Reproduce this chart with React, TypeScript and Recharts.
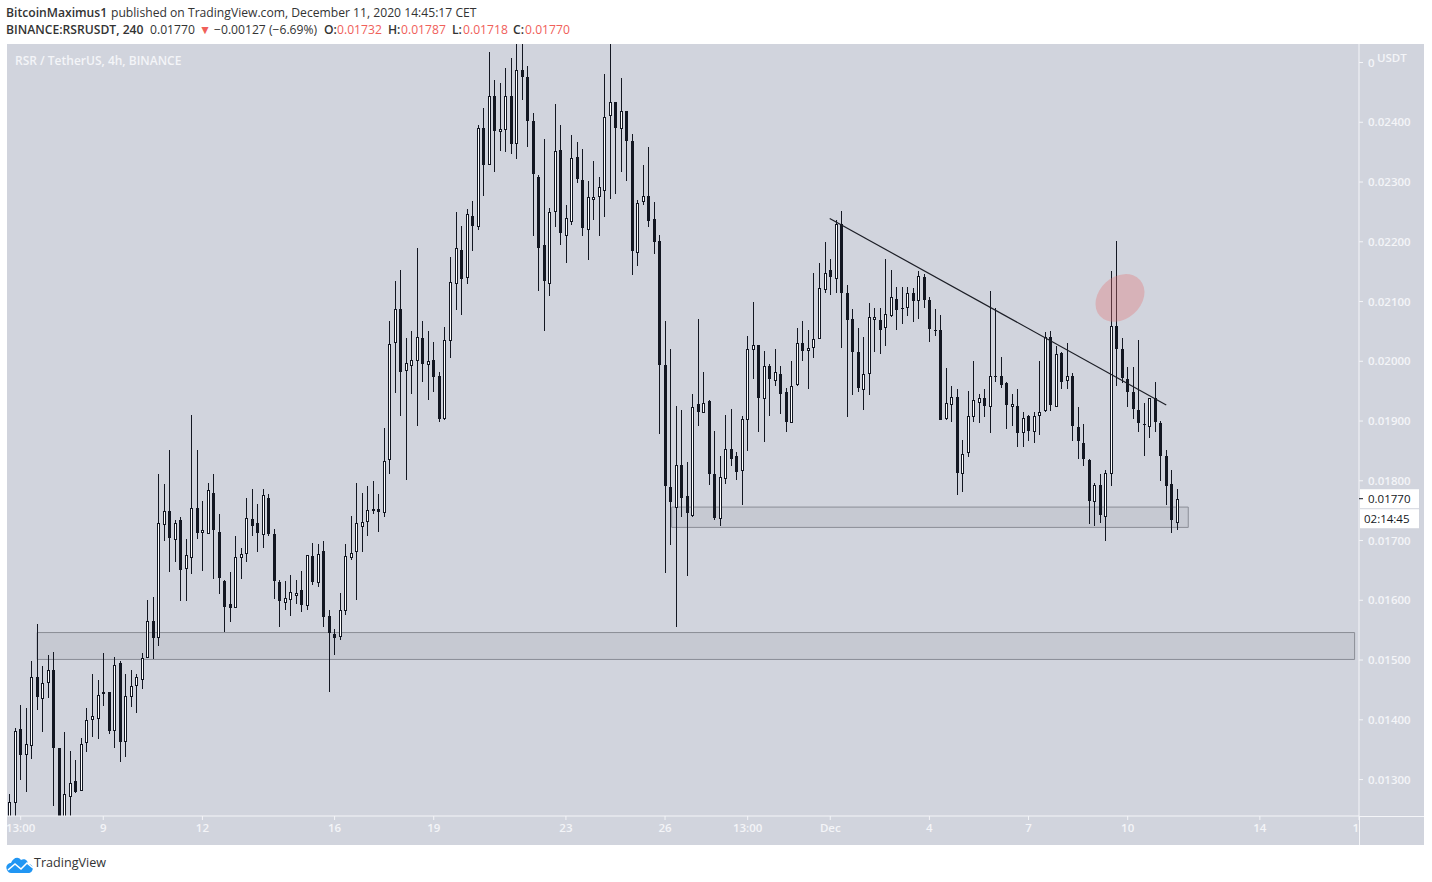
import React from 'react';
import { ComposedChart, Bar, XAxis, YAxis, ReferenceArea, ReferenceLine, ReferenceDot } from 'recharts';

// prices are in units of 0.00001 USDT, one entry per 4h candle
const opens = [
  1232,1263,1385,1342,1357,1471,1437,1464,1484,1352,1228,1274,1297,1283,1362,1402,1404,1446,1446,1382,
  1495,1363,1440,1457,1469,1506,1566,1540,1729,1749,1703,1734,1653,1673,1755,1713,1713,1780,1715,1633,
  1593,1588,1673,1678,1736,1729,1710,1771,1711,1630,1598,1603,1608,1617,1593,1674,1630,1682,1574,1543,
  1540,1583,1673,1682,1725,1732,1752,1752,1747,1836,2031,2087,1985,1994,2002,2039,1995,2002,1975,1904,
  2035,2131,2186,2140,2243,2226,2390,2331,2444,2385,2388,2444,2364,2487,2475,2402,2308,2194,2132,2251,
  2353,2211,2234,2342,2303,2221,2271,2276,2286,2412,2434,2390,2419,2368,2183,2268,2276,2238,2201,1994,
  1790,1756,1826,1774,1743,1928,1916,1933,1812,1739,1805,1853,1841,1817,1903,2022,2028,1938,1992,1968,
  1978,1948,1897,1961,2030,2018,2025,2038,2120,2152,2139,2230,2114,2070,2015,1953,1980,2070,2069,2057,
  2077,2105,2089,2092,2115,2102,2141,2102,2052,2052,1905,1928,1940,1812,1848,1908,1931,1938,1925,1976,
  1975,1963,1924,1925,1881,1908,1883,1910,1918,2040,1925,2014,1968,1975,1890,1863,1834,1766,1793,1741,
  1813,2059,2020,1970,1948,1918,1895,1891,1938,1896,1841,1794,1732,
];
const highs = [
  1275,1387,1424,1419,1499,1561,1490,1509,1514,1352,1379,1347,1332,1369,1419,1477,1466,1511,1447,1505,
  1498,1476,1484,1476,1511,1601,1605,1811,1795,1851,1734,1740,1703,1910,1852,1767,1797,1811,1745,1634,
  1648,1708,1688,1771,1786,1761,1786,1778,1720,1634,1633,1643,1634,1649,1676,1696,1695,1699,1584,1552,
  1612,1694,1741,1796,1779,1791,1799,1778,1888,2067,2135,2152,2039,2051,2190,2067,2051,2032,1982,2057,
  2174,2250,2227,2255,2268,2395,2424,2517,2470,2465,2491,2507,2545,2545,2494,2415,2311,2372,2256,2430,
  2396,2261,2379,2367,2355,2301,2335,2308,2481,2550,2434,2474,2419,2380,2270,2328,2358,2266,2211,2068,
  2020,1925,1918,1831,1945,2070,1982,1935,1883,1841,1910,1920,1848,1908,2042,2099,2028,2018,1995,2020,
  1992,1955,2000,2055,2067,2052,2147,2164,2199,2172,2237,2252,2128,2087,2055,2040,2097,2090,2089,2171,
  2152,2125,2125,2125,2122,2151,2146,2107,2087,2077,1988,1958,1953,1869,1950,2000,1945,1953,2117,2089,
  2007,1965,1945,1953,1915,1910,1915,2000,2049,2050,2025,2015,2030,1980,1923,1895,1836,1796,1811,1818,
  2151,2201,2039,1990,1990,2035,1931,1938,1965,1900,1852,1818,1787,
];
const lows = [
  1220,1235,1299,1279,1335,1417,1380,1437,1256,1215,1220,1235,1278,1281,1346,1371,1368,1423,1376,1352,
  1330,1338,1421,1411,1451,1504,1502,1523,1700,1647,1664,1599,1599,1644,1703,1649,1713,1636,1611,1547,
  1564,1588,1636,1664,1708,1680,1688,1708,1602,1556,1584,1573,1594,1581,1583,1626,1623,1556,1446,1509,
  1534,1575,1667,1600,1680,1708,1744,1714,1739,1812,1947,1909,1801,1945,1891,1965,1936,1949,1899,1902,
  2006,2086,2078,2130,2185,2220,2277,2331,2316,2352,2350,2347,2339,2438,2359,2209,2118,2051,2110,2224,
  2195,2164,2228,2298,2209,2170,2237,2210,2241,2271,2280,2316,2301,2145,2159,2261,2224,2179,1878,1646,
  1693,1556,1740,1640,1740,1892,1916,1793,1735,1725,1795,1825,1801,1760,1850,1971,1882,1865,1909,1958,
  1912,1882,1896,1958,2000,1954,2006,2038,2115,2111,2114,2023,1906,1944,1948,1919,1944,2015,2013,2026,
  2074,2053,2062,2076,2066,2070,2090,2033,2043,1902,1901,1899,1777,1782,1840,1898,1897,1907,1880,1966,
  1956,1887,1891,1856,1856,1867,1863,1876,1915,1916,1925,1954,1954,1867,1837,1825,1728,1725,1730,1700,
  1792,1958,1964,1923,1904,1882,1842,1872,1881,1800,1760,1713,1718,
];
const closes = [
  1262,1382,1342,1359,1471,1437,1462,1484,1353,1225,1275,1295,1279,1360,1399,1407,1442,1443,1381,1491,
  1363,1439,1456,1471,1504,1566,1537,1730,1750,1703,1730,1651,1675,1755,1713,1717,1785,1718,1638,1589,
  1587,1672,1678,1737,1725,1712,1776,1710,1633,1598,1604,1614,1612,1592,1676,1630,1677,1571,1546,1537,
  1584,1674,1679,1729,1731,1751,1749,1747,1833,2029,2087,1981,1997,2002,2041,1995,2000,1973,1903,2035,
  2132,2189,2137,2246,2226,2390,2328,2444,2386,2388,2444,2364,2487,2475,2401,2314,2190,2133,2250,2352,
  2214,2239,2340,2306,2222,2275,2275,2291,2409,2434,2390,2419,2368,2184,2265,2276,2234,2200,1993,1792,
  1765,1826,1770,1745,1923,1914,1931,1810,1738,1807,1853,1837,1815,1903,2020,2028,1940,1992,1970,1982,
  1944,1897,1958,2030,2017,2022,2038,2122,2147,2140,2230,2114,2068,2014,1954,1978,2074,2074,2053,2079,
  2107,2087,2088,2115,2102,2142,2102,2053,2051,1902,1930,1940,1812,1844,1908,1935,1938,1925,1975,1975,
  1960,1926,1928,1879,1905,1883,1908,1915,2040,1926,2012,1966,1975,1891,1867,1836,1765,1793,1742,1813,
  2059,2020,1971,1948,1919,1897,1894,1938,1897,1841,1791,1733,1770,
];

const priceTicks = [1300, 1400, 1500, 1600, 1700, 1800, 1900, 2000, 2100, 2200, 2300, 2400, 2500];
const timeTicks = [2, 17, 35, 59, 77, 101, 119, 134, 149, 167, 185, 203, 227, 245];
const timeLabels = ['13:00', '9', '12', '16', '19', '23', '26', '13:00', 'Dec', '4', '7', '10', '14', '1'];

const lastPrice = closes[closes.length - 1];
const upperZone = { x1: 5, x2: 244.2, y1: 1501, y2: 1546 };
const lowerZone = { x1: 120.2, x2: 214, y1: 1722, y2: 1756 };
const trendLine = [{ x: 148.9, y: 2239 }, { x: 210, y: 1927 }];
const markerSpot = { x: 201.6, y: 2106 };

const candles = opens.map((open, i) => ({
  i,
  open,
  close: closes[i],
  range: [lows[i], highs[i]],
}));

const DARK = '#131722';
const PANE = '#d1d4dd';
const AXIS = '#f4f5f8';
const FONT = '"Open Sans", sans-serif';
const RED = '#f0605a';

// header pieces: text, left edge, bold or red
const headerTop = [
  { text: 'BitcoinMaximus1', left: 6, bold: true },
  { text: 'published on TradingView.com, December 11, 2020 14:45:17 CET', left: 111 },
];
const headerBottom = [
  { text: 'BINANCE:RSRUSDT, 240', left: 6, bold: true },
  { text: '0.01770', left: 150 },
  { text: '▼', left: 199, red: true },
  { text: '−0.00127 (−6.69%)', left: 214 },
  { text: 'O:', left: 324, bold: true },
  { text: '0.01732', left: 337, red: true },
  { text: 'H:', left: 388, bold: true },
  { text: '0.01787', left: 401, red: true },
  { text: 'L:', left: 452, bold: true },
  { text: '0.01718', left: 463, red: true },
  { text: 'C:', left: 513, bold: true },
  { text: '0.01770', left: 525, red: true },
];

const CandleShape = (props: any) => {
  const { x, y, width, height, payload } = props;
  const [low, high] = payload.range;
  const perUnit = height / (high - low || 1);
  const top = y + (high - Math.max(payload.open, payload.close)) * perUnit;
  const bottom = y + (high - Math.min(payload.open, payload.close)) * perUnit;
  const cx = Math.round(x + width / 2) + 0.5;
  const up = payload.close >= payload.open;
  return (
    <g shapeRendering="crispEdges">
      <line x1={cx} x2={cx} y1={y} y2={y + height} stroke={DARK} strokeWidth={1} />
      {up ? (
        <rect x={cx - 1} y={Math.round(top) + 0.5} width={2} height={Math.max(Math.round(bottom - top), 1)} fill="#fff" stroke={DARK} strokeWidth={1} />
      ) : (
        <rect x={cx - 1.5} y={Math.round(top)} width={3} height={Math.max(Math.round(bottom - top), 1)} fill={DARK} />
      )}
    </g>
  );
};

const TimeTick = (props: any) => {
  const { x, y, payload } = props;
  const label = timeLabels[timeTicks.indexOf(payload.value)];
  return (
    <text x={x} y={y + 10} textAnchor={label === '1' ? 'end' : 'middle'} fill={AXIS} fontSize={11.5} fontWeight={600} fontFamily={FONT}>
      {label}
    </text>
  );
};

const PriceTag = (props: any) => {
  const { cx, cy } = props;
  return (
    <g fontFamily={FONT} fontSize={11.5} fill={DARK}>
      <rect x={cx + 1} y={cy - 9.5} width={59} height={19} fill="#fff" />
      <line x1={cx} x2={cx + 4} y1={cy} y2={cy} stroke={DARK} />
      <text x={cx + 9} y={cy + 4}>{(lastPrice / 100000).toFixed(5)}</text>
      <rect x={cx + 1} y={cy + 10.5} width={59} height={19} fill="#fff" />
      <text x={cx + 5} y={cy + 24}>02:14:45</text>
    </g>
  );
};

const MarkerEllipse = (props: any) => {
  const { cx, cy } = props;
  return <ellipse cx={cx} cy={cy} rx={27} ry={21} transform={`rotate(-42 ${cx} ${cy})`} fill="#e57373" fillOpacity={0.34} />;
};

const Logo = () => (
  <svg width={28} height={18} viewBox="0 0 28 18" style={{ position: 'absolute', left: 6, top: 855 }}>
    <path d="M1 15 C-1 11 2 8 5 8 C7 3 12 1 15 5 C18 3 22 5 22 9 C26 9 28 13 26 16 C25 17.5 24 18 22 18 L5 18 C3 18 2 17 1 15 Z" fill="#2196f3" />
    <polyline points="2,15 9,9 15,14 21,8 27,13" fill="none" stroke="#fff" strokeWidth={1.6} />
  </svg>
);

const HeaderRow = ({ pieces, top }: { pieces: any[]; top: number }) => (
  <>
    {pieces.map((p) => (
      <span
        key={p.left}
        style={{
          position: 'absolute',
          left: p.left,
          top,
          fontSize: 12.15,
          lineHeight: '16px',
          whiteSpace: 'nowrap',
          fontWeight: p.bold ? 600 : 400,
          color: p.red ? RED : '#333',
        }}
      >
        {p.text}
      </span>
    ))}
  </>
);

export default function App() {
  return (
    <div style={{ position: 'absolute', left: 0, top: 0, width: 1432, height: 882, background: '#fff', overflow: 'hidden', fontFamily: FONT, color: '#333' }}>
      <HeaderRow pieces={headerTop} top={5} />
      <HeaderRow pieces={headerBottom} top={22} />

      <div style={{ position: 'absolute', left: 7, top: 44, width: 1417, height: 801, background: PANE, overflow: 'hidden' }}>
        <ComposedChart width={1417} height={801} data={candles} margin={{ top: 0, right: 0, bottom: 0, left: 0 }}>
          <XAxis
            dataKey="i"
            type="number"
            domain={[-0.48, 245]}
            allowDataOverflow
            ticks={timeTicks}
            interval={0}
            height={29}
            stroke={AXIS}
            tickSize={4}
            tick={<TimeTick />}
          />
          <YAxis
            orientation="right"
            width={65}
            domain={[1239, 2531]}
            allowDataOverflow
            ticks={priceTicks}
            interval={0}
            stroke={AXIS}
            tickSize={4}
            tickMargin={5}
            tick={{ fill: AXIS, fontSize: 11.5, fontWeight: 600, fontFamily: FONT }}
            tickFormatter={(v: number) => (v === 2500 ? '0' : (v / 100000).toFixed(5))}
          />
          <ReferenceArea {...upperZone} fill="#787b86" fillOpacity={0.12} stroke="#8a8d96" ifOverflow="hidden" />
          <ReferenceArea {...lowerZone} fill="#787b86" fillOpacity={0.12} stroke="#8a8d96" ifOverflow="hidden" />
          <ReferenceDot x={markerSpot.x} y={markerSpot.y} shape={<MarkerEllipse />} ifOverflow="hidden" />
          <Bar dataKey="range" barSize={3} shape={<CandleShape />} isAnimationActive={false} />
          <ReferenceLine segment={trendLine} stroke="#1c1e26" strokeWidth={1.2} ifOverflow="hidden" />
          <ReferenceDot x={245} y={lastPrice} shape={<PriceTag />} ifOverflow="visible" />
        </ComposedChart>
        <div style={{ position: 'absolute', left: 8, top: 8, fontSize: 12, fontWeight: 600, color: AXIS }}>RSR / TetherUS, 4h, BINANCE</div>
        <div style={{ position: 'absolute', left: 1370, top: 6, fontSize: 11.5, fontWeight: 600, color: AXIS }}>USDT</div>
        <div style={{ position: 'absolute', left: 1352, top: 772, width: 1, height: 29, background: AXIS }} />
        <div style={{ position: 'absolute', left: 1352, top: 772, width: 65, height: 1, background: AXIS }} />
      </div>

      <Logo />
      <div style={{ position: 'absolute', left: 34, top: 854, fontSize: 12.6, lineHeight: '18px' }}>TradingView</div>
    </div>
  );
}
